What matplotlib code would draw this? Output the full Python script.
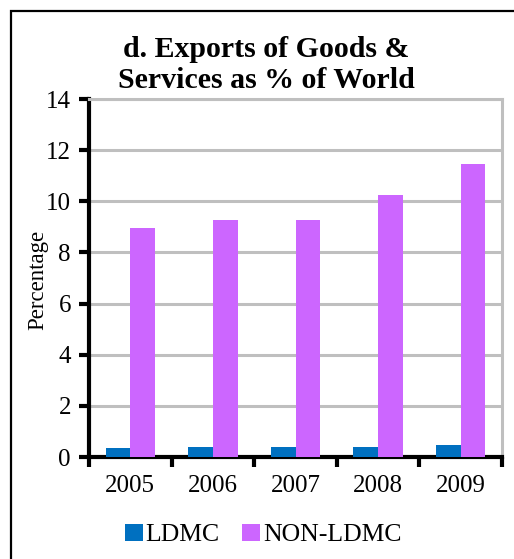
import numpy as np
import matplotlib
matplotlib.use("Agg")
import matplotlib.pyplot as plt
from matplotlib.patches import Rectangle

# Datos
years = ["2005", "2006", "2007", "2008", "2009"]
ldmc = [0.35, 0.40, 0.40, 0.40, 0.45]
non_ldmc = [8.95, 9.25, 9.25, 10.25, 11.45]

plt.rcParams["font.family"] = ["Liberation Serif", "DejaVu Serif"]

fig = plt.figure(figsize=(5.14, 5.59), dpi=100)
ax = fig.add_axes([89 / 514, 1 - 457 / 559, 413 / 514, 358 / 559])

x = np.arange(len(years))
w = 0.3
ax.bar(x - w / 2, ldmc, w, color="#0070C0", label="LDMC", zorder=3)
ax.bar(x + w / 2, non_ldmc, w, color="#CC66FF", label="NON-LDMC", zorder=3)

ax.set_xlim(-0.5, len(years) - 0.5)
ax.set_ylim(0, 14)
ax.set_yticks(range(0, 15, 2))
ax.yaxis.grid(True, color="#BFBFBF", linewidth=2.2, zorder=0)
ax.set_axisbelow(True)

# ticks del eje x entre categorias
ax.set_xticks(np.arange(-0.5, len(years), 1.0))
ax.set_xticklabels([])
ax.set_xticks(x, minor=True)
ax.set_xticklabels(years, minor=True, fontsize=18)
ax.tick_params(axis="x", which="minor", length=0, pad=13)
ax.tick_params(axis="x", which="major", length=7, width=3, direction="out", color="black")
ax.tick_params(axis="y", length=7, width=3, direction="out", labelsize=18, pad=6)

for s in ["left", "bottom"]:
    ax.spines[s].set_linewidth(3)
    ax.spines[s].set_color("black")
for s in ["top", "right"]:
    ax.spines[s].set_linewidth(2.2)
    ax.spines[s].set_color("#BFBFBF")

ax.set_ylabel("Percentage", fontsize=16.5)
ax.yaxis.set_label_coords((48 - 89) / 413, (457 - 280) / 358)

fig.text(266 / 514, 1 - 57 / 559, "d. Exports of Goods &", ha="center", va="baseline",
         fontsize=21.5, fontweight="bold")
fig.text(266 / 514, 1 - 88 / 559, "Services as % of World", ha="center", va="baseline",
         fontsize=21.5, fontweight="bold")

fig.legend(loc="center", bbox_to_anchor=(263 / 514, 1 - 535 / 559), ncol=2, frameon=False,
           fontsize=18.5, handlelength=0.7, handleheight=0.7, handletextpad=0.1,
           columnspacing=0.9)

# marco de la figura
fig.patches.append(Rectangle((11 / 514, -0.1), 1.2, 1.1 - 11 / 559, transform=fig.transFigure,
                             fill=False, edgecolor="black", linewidth=1.6))

plt.savefig("out.png", dpi=100)
